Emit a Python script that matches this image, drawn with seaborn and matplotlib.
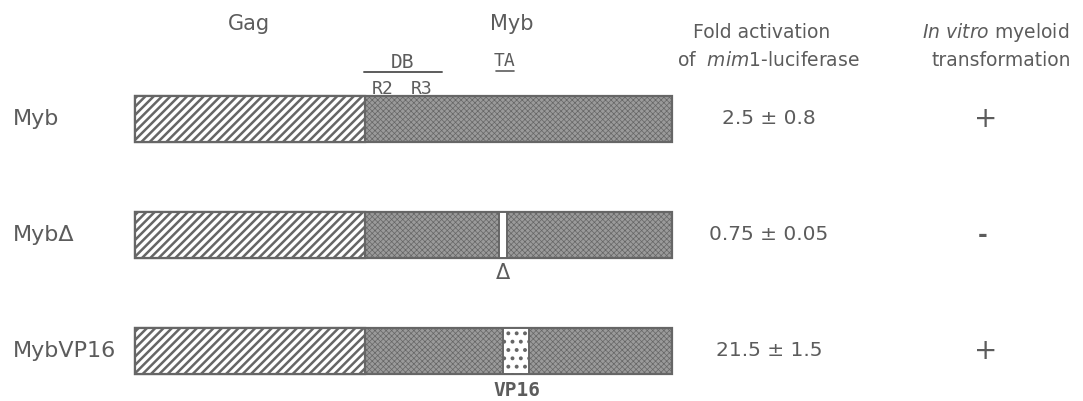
import matplotlib
matplotlib.use("Agg")
import matplotlib.pyplot as plt
import seaborn as sns
import pandas as pd

# ---- data ----
constructs = ["Myb", "MybΔ", "MybVP16"]
gag_len = [230, 230, 230]
myb_len = [307, 307, 307]
insert_kind = [None, "delta", "VP16"]
insert_start = [None, 364, 368]
insert_len = [None, 8, 26]
fold_mean = [2.5, 0.75, 21.5]
fold_sd = [0.8, 0.05, 1.5]
transformation = ["+", "-", "+"]
db_region = [229, 307]
r_labels = ["R2", "R3"]
r_pos = [248, 287]
ta_pos = 370

sns.set_theme(style="white")
plt.rcParams["font.family"] = ["DejaVu Sans"]

TXT = "#5c5c5c"
EDGE = "#666666"

W, H = 1083, 401
Y0, DY = 119, 116
fig = plt.figure(figsize=(W / 100, H / 100), dpi=100)
ax = fig.add_axes([0, 0, 1, 1])

df = pd.DataFrame({
    "construct": constructs,
    "total": [g + m for g, m in zip(gag_len, myb_len)],
    "gag": gag_len,
})

# full-length bars (Myb pattern)
sns.barplot(data=df, x="total", y="construct", orient="h", width=0.4,
            color="#9a9a9a", saturation=1, edgecolor=EDGE, linewidth=1.6,
            hatch="xxxxxx", ax=ax)
n_full = len(ax.patches)
for p in ax.patches:
    try:
        p.set_hatch_linewidth(0.5)
    except Exception:
        pass
# Gag part
sns.barplot(data=df, x="gag", y="construct", orient="h", width=0.4,
            color="white", saturation=1, edgecolor=EDGE, linewidth=1.6,
            hatch="////", ax=ax)
for p in ax.patches[n_full:]:
    try:
        p.set_hatch_linewidth(1.8)
    except Exception:
        pass

# inserts
for i, kind in enumerate(insert_kind):
    if kind is None:
        continue
    b = ax.barh(i, insert_len[i], left=insert_start[i], height=0.4,
                color="white", edgecolor=EDGE, linewidth=1.4,
                hatch=("" if kind == "delta" else ".."), zorder=5)
    if kind == "VP16":
        try:
            b.patches[0].set_hatch_linewidth(1.6)
        except Exception:
            pass

# axes scaling: x in residue units with bar start at pixel 135
ax.set_xlim(-135, W - 135)
ax.set_ylim((H - Y0) / DY, -Y0 / DY)
ax.axis("off")


def py(px):
    return (px - Y0) / DY


def tx(x_px, y_px, s, size, **kw):
    kw.setdefault("color", TXT)
    kw.setdefault("ha", "center")
    kw.setdefault("va", "center")
    ax.text(x_px - 135, py(y_px), s, fontsize=size, **kw)


# titles
tx(249, 24, "Gag", 15)
tx(512, 24, "Myb", 15)
mono = "DejaVu Sans Mono"
tx(403, 62, "DB", 14, family=mono)
ax.plot([db_region[0], db_region[1]], [py(72), py(72)], color=TXT, lw=1.4)
for lab, xp in zip(r_labels, r_pos):
    ax.text(xp, py(89), lab, fontsize=13, family=mono, color=TXT,
            ha="center", va="center")
ax.text(ta_pos, py(61), "TA", fontsize=13, family=mono, color=TXT,
        ha="center", va="center")
ax.plot([ta_pos - 9, ta_pos + 9], [py(71), py(71)], color=TXT, lw=1.2)

# column headers
tx(762, 33, "Fold activation", 13.5)
tx(768, 60, r"of  $\it{mim1}$-luciferase", 13.5)
tx(996, 33, r"$\it{In\ vitro}$ myeloid", 13.5)
tx(1001, 60, "transformation", 13.5)

# row labels and values
for i, name in enumerate(constructs):
    ax.text(-122, i, name, fontsize=16, color=TXT, ha="left", va="center")
    ax.text(769 - 135, i, f"{fold_mean[i]:g} ± {fold_sd[i]:g}", fontsize=14.5,
            color=TXT, ha="center", va="center")
    if transformation[i] == "+":
        ax.text(986 - 135, i, "+", fontsize=20, color=TXT,
                ha="center", va="center")
    else:
        ax.text(983 - 135, i, "-", fontsize=17, fontweight="bold", color=TXT,
                ha="center", va="center")

# insert labels
tx(503, 273, "Δ", 15)
tx(517, 391, "VP16", 14, family=mono, fontweight="bold")

fig.savefig("out.png", dpi=100)
